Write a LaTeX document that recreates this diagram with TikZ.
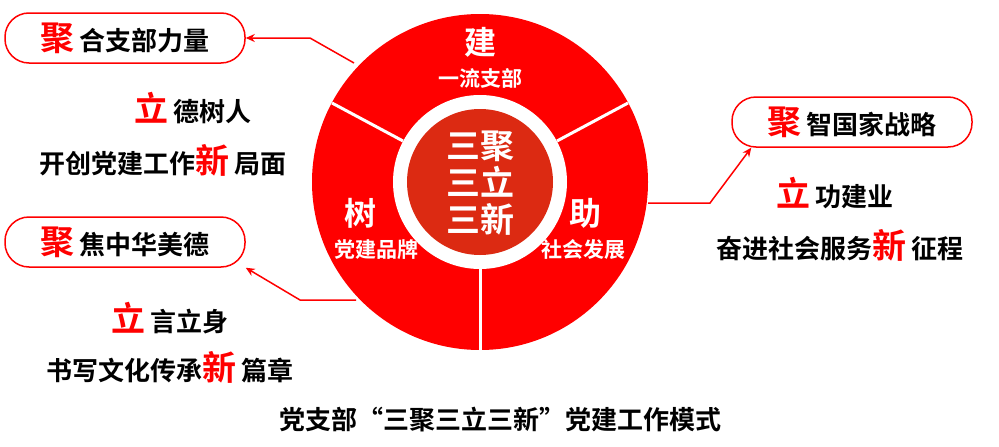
\documentclass[tikz,border=0pt]{standalone}
\usepackage{fontspec}
\setmainfont{Noto Sans CJK SC}[BoldFont={Noto Sans CJK SC Bold}]
\usetikzlibrary{arrows.meta}
\definecolor{bred}{HTML}{FF0000}
\definecolor{dred}{HTML}{DC2A12}
\tikzset{
 pill/.style={draw=bred,line width=1.5pt,fill=white,rounded corners=24pt,minimum width=240pt,minimum height=50pt},
 conn/.style={draw=bred,line width=1.5pt,-{Stealth[length=9pt,width=8pt]}},
 sep/.style={draw=white,line width=3pt},
 blk/.style={font=\fontsize{26}{28}\selectfont\bfseries,inner sep=0pt},
 wt/.style={text=white,font=\fontsize{21}{22}\selectfont\bfseries,inner sep=0pt},
 wbig/.style={text=white,font=\fontsize{32}{32}\selectfont\bfseries,inner sep=0pt},
}
\newcommand{\rd}[1]{{\color{bred}\fontsize{34}{34}\selectfont #1}}
\begin{document}
\begin{tikzpicture}[x=1pt,y=-1pt]
\useasboundingbox (0,0) rectangle (999,447);
\fill[bred] (480,182) circle (168);
\fill[white] (480,182) circle (87);
\fill[dred] (480,182) circle (73);
\draw[sep] (480,269) -- (480,352);
\draw[sep] (403,141) -- (332,103);
\draw[sep] (557,141) -- (628,103);
\node[text=white,font=\fontsize{34}{40}\selectfont\bfseries,align=center] (c) at (480,183) {三聚\\[-3pt]三立\\[-3pt]三新};
\node[wbig] (t1) at (480,42) {建};
\node[wt] (t2) at (480,78) {一流支部};
\node[wbig] (l1) at (360,213) {树};
\node[wt] (l2) at (376,250) {党建品牌};
\node[wbig] (r1) at (585,213) {助};
\node[wt] (r2) at (583,250) {社会发展};
\node[pill] (p1) at (125,38) {};
\node[blk] at (p1) {\rd{聚}\,合支部力量};
\node[pill] (p2) at (125,242) {};
\node[blk] at (p2) {\rd{聚}\,焦中华美德};
\node[pill] (p3) at (852,122) {};
\node[blk] at (p3) {\rd{聚}\,智国家战略};
\node[blk] (a1) at (193,108) {\rd{立}\,德树人};
\node[blk] (a2) at (163,160) {开创党建工作\rd{新}\,局面};
\node[blk] (b1) at (170,318) {\rd{立}\,言立身};
\node[blk] (b2) at (170,367) {书写文化传承\rd{新}\,篇章};
\node[blk] (c1) at (835,193) {\rd{立}\,功建业};
\node[blk] (c2) at (840,245) {奋进社会服务\rd{新}\,征程};
\node[blk] (cap) at (500,420) {党支部“三聚三立三新”党建工作模式};
\coordinate (k1) at (354,63);
\coordinate (k1b) at (310,38);
\draw[conn] (k1) -- (k1b) -- (p1.east);
\coordinate (k2) at (356,300);
\coordinate (k2b) at (300,300);
\draw[conn] (k2) -- (k2b) -- (p2.south east);
\coordinate (k3) at (648,203);
\coordinate (k3b) at (710,203);
\draw[conn] (k3) -- (k3b) -- ([xshift=20pt]p3.south west);
\end{tikzpicture}
\end{document}
